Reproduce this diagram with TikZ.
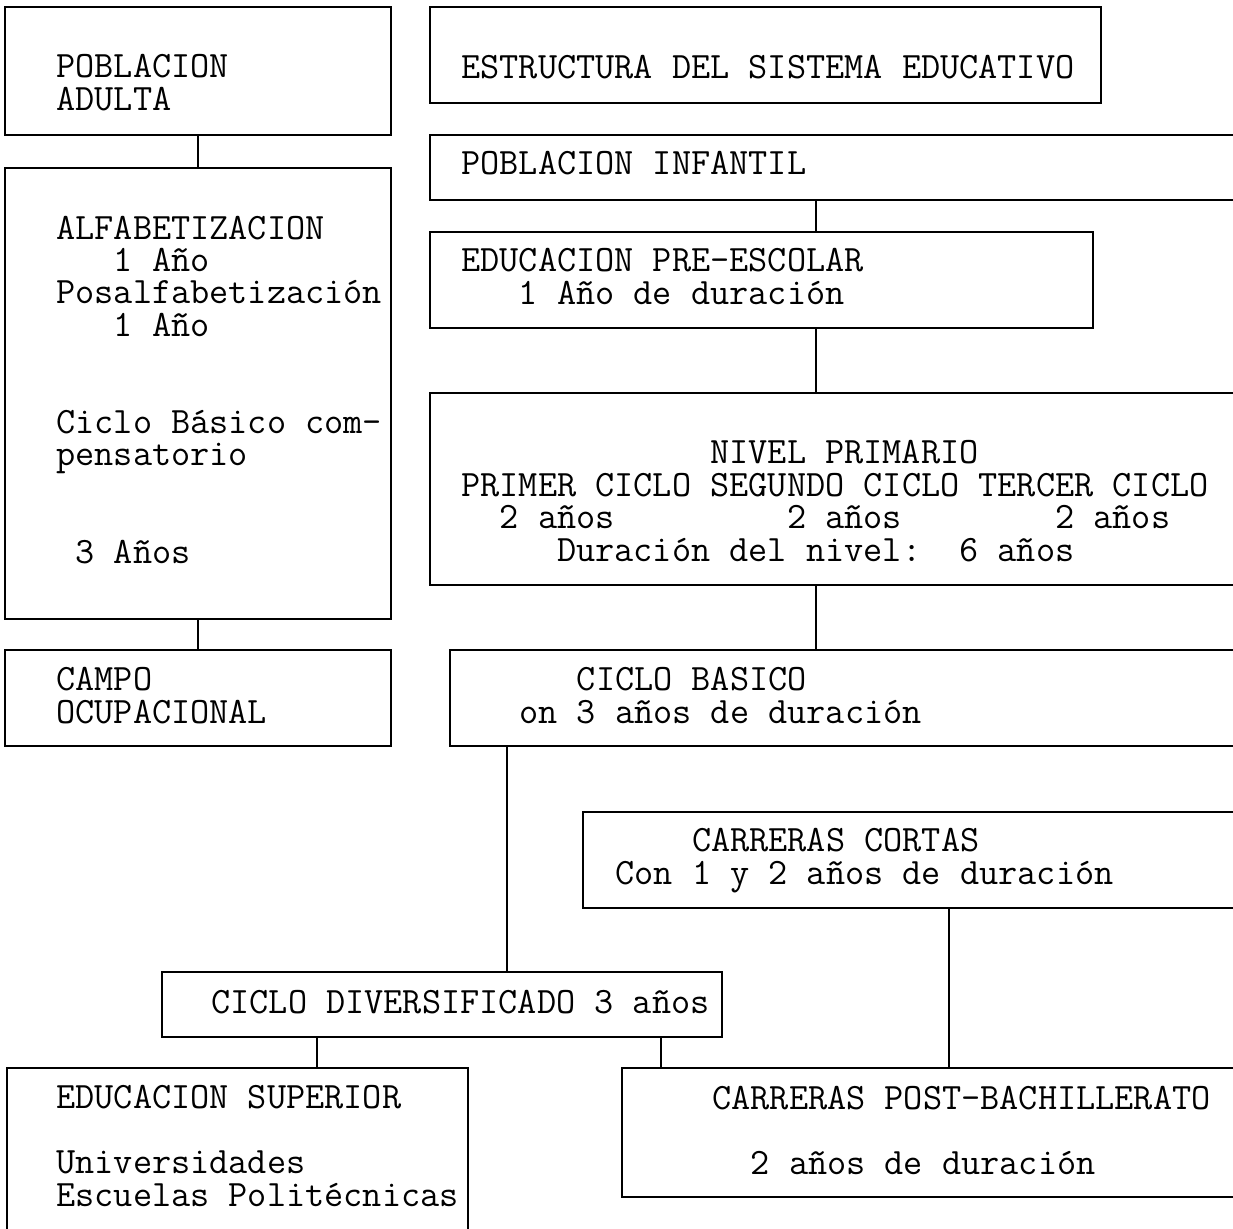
\documentclass[tikz,border=0pt]{standalone}
\usepackage{fontspec}
\usetikzlibrary{fit,calc}

\tikzset{
  box/.style={draw, line width=1pt, inner sep=0pt},
  txt/.style={font=\ttfamily\fontsize{18.6}{16.2}\selectfont\frenchspacing,
    align=left, inner sep=0pt, anchor=base west},
  link/.style={line width=1pt}
}

\begin{document}
\begin{tikzpicture}[x=0.5pt, y=-0.5pt]
  \useasboundingbox (0,0) rectangle (1233,1228);

  % adult branch (text nodes sit on the baseline of their last line)
  \node[box, fit={(5,7) (391,135)}] (adulta) {};
  \node[txt] (adulta-text) at (56,110) {POBLACION\\ADULTA};
  \node[box, fit={(5,168) (391,619)}] (alfa) {};
  \node[txt] (alfa-text) at (56,563) {ALFABETIZACION\\~~~1 Año\\Posalfabetización\\~~~1 Año\\~\\~\\
    Ciclo Básico com-\\pensatorio\\~\\~\\~3 Años};
  \node[box, fit={(5,650) (391,746)}] (campo) {};
  \node[txt] (campo-text) at (56,723) {CAMPO\\OCUPACIONAL};

  % title and school branch
  \node[box, fit={(430,7) (1101,103)}] (titulo) {};
  \node[txt] (titulo-text) at (461,78) {ESTRUCTURA DEL SISTEMA EDUCATIVO};
  \node[box, fit={(430,135) (1245,200)}] (infantil) {};
  \node[txt] (infantil-text) at (461,174) {POBLACION INFANTIL};
  \node[box, fit={(430,232) (1093,328)}] (preescolar) {};
  \node[txt] (preescolar-text) at (461,304) {EDUCACION PRE-ESCOLAR\\~~~1 Año de duración};
  \node[box, fit={(430,393) (1245,585)}] (primario) {};
  \node[txt] (primario-text) at (461,561) {~~~~~~~~~~~~~NIVEL PRIMARIO\\
    PRIMER CICLO SEGUNDO CICLO TERCER CICLO\\
    ~~2 años~~~~~~~~~2 años~~~~~~~~2 años\\
    ~~~~~Duración del nivel:~~6 años};
  \node[box, fit={(450,650) (1245,746)}] (basico) {};
  \node[txt] (basico-text) at (519,723) {~~~CICLO BASICO\\on 3 años de duración};
  \node[box, fit={(583,812) (1245,908)}] (cortas) {};
  \node[txt] (cortas-text) at (615,884) {~~~~CARRERAS CORTAS\\Con 1 y 2 años de duración};
  \node[box, fit={(162,972) (722,1037)}] (diversificado) {};
  \node[txt] (diversificado-text) at (211,1013) {CICLO DIVERSIFICADO 3 años};
  \node[box, fit={(7,1068) (468,1245)}] (superior) {};
  \node[txt] (superior-text) at (56,1206) {EDUCACION SUPERIOR\\~\\Universidades\\Escuelas Politécnicas};
  \node[box, fit={(622,1068) (1245,1197)}] (postbach) {};
  \node[txt] (postbach-text) at (712,1174) {CARRERAS POST-BACHILLERATO\\~\\~~2 años de duración};

  % drop lines
  \coordinate (spine) at (816,0);
  \coordinate (drop-basico) at (507,0);
  \coordinate (drop-superior) at (317,0);
  \coordinate (drop-post) at (661,0);
  \coordinate (drop-cortas) at (949,0);

  \draw[link] (adulta.south) -- (alfa.north);
  \draw[link] (alfa.south) -- (campo.north);
  \draw[link] (infantil.south -| spine) -- (preescolar.north -| spine);
  \draw[link] (preescolar.south -| spine) -- (primario.north -| spine);
  \draw[link] (primario.south -| spine) -- (basico.north -| spine);
  \draw[link] (basico.south -| drop-basico) -- (diversificado.north -| drop-basico);
  \draw[link] (diversificado.south -| drop-superior) -- (superior.north -| drop-superior);
  \draw[link] (diversificado.south -| drop-post) -- (postbach.north -| drop-post);
  \draw[link] (cortas.south -| drop-cortas) -- (postbach.north -| drop-cortas);
\end{tikzpicture}
\end{document}
